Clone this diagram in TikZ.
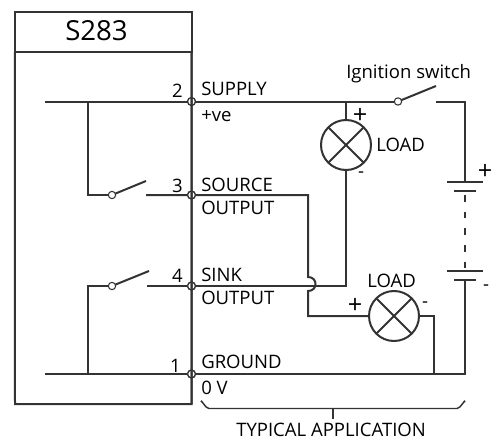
\documentclass[tikz,border=0pt]{standalone}
\usepackage{fontspec}
\setmainfont{Open Sans}
\definecolor{wirecol}{HTML}{333333}
\tikzset{
    wire/.style={line width=1.5pt,draw=wirecol,line join=miter},
    lamp/.style={circle,draw=wirecol,line width=1.5pt,minimum size=37.5pt,inner sep=0pt,outer sep=0pt},
    pin/.style={circle,draw=wirecol,line width=0.8pt,minimum size=6pt,inner sep=0pt,outer sep=0pt},
    contact/.style={circle,draw=wirecol,fill=white,line width=0.8pt,minimum size=5.5pt,inner sep=0pt,outer sep=0pt},
    lbl/.style={anchor=base west,inner sep=0pt,text=black,font=\fontsize{13.9}{14}\selectfont},
    num/.style={anchor=base east,inner sep=0pt,text=black,font=\fontsize{13.9}{14}\selectfont},
    sign/.style={inner sep=0pt,text=black,font=\fontsize{13.9}{14}\selectfont},
    plus/.style={inner sep=0pt,text=black,font=\fontsize{19}{19}\selectfont}
}
\begin{document}
\begin{tikzpicture}[x=0.75pt,y=-0.75pt]
                    \useasboundingbox (0,0) rectangle (493,439);
                    % Blocks
                    \node [rectangle,draw=wirecol,line width=1.5pt,minimum width=132.4pt,minimum height=30pt,inner sep=0pt,outer sep=0pt] (title) at (103.25,32) {};
                    \node [inner sep=0pt,text=black,font=\fontsize{20.7}{21}\selectfont] (titletext) at (96.5,31) {S283};
                    \node [coordinate] (boxBL) at (15,404) {};
                    \node [coordinate] (boxBR) at (191.5,404) {};
                    \node [lamp] (LOADa) at (346,145) {};
                    \node [lamp] (LOADb) at (394,316) {};
                    \foreach \lampname in {LOADa,LOADb}{
                        \draw [wire] (\lampname.45) -- (\lampname.225);
                        \draw [wire] (\lampname.135) -- (\lampname.315);
                    }

                    % Terminals
                    \node [pin] (T2) at (191.5,101.5) {};
                    \node [pin] (T3) at (191.5,195) {};
                    \node [pin] (T4) at (191.5,286) {};
                    \node [pin] (T1) at (191.5,374) {};

                    % Switches
                    \node [coordinate] (inA) at (45,101.5) {};
                    \node [coordinate] (inB) at (45,374) {};
                    \node [coordinate] (jA) at (88,101.5) {};
                    \node [coordinate] (jB) at (88,374) {};
                    \node [coordinate] (kA) at (88,195) {};
                    \node [coordinate] (kB) at (88,286) {};
                    \node [contact] (SWa) at (112,195) {};
                    \node [contact] (SWb) at (112,286) {};
                    \node [contact] (SWign) at (398,101.5) {};
                    \node [coordinate] (SWaup) at (146,181) {};
                    \node [coordinate] (SWbup) at (149,271) {};
                    \node [coordinate] (SWignup) at (436,86) {};
                    \node [coordinate] (SWaout) at (146,195) {};
                    \node [coordinate] (SWbout) at (147,286) {};
                    \node [coordinate] (SWignout) at (436,101.5) {};

                    % Points on the outer wires
                    \node [coordinate] (jLamp) at (346,101.5) {};
                    \node [coordinate] (sinkTurn) at (346,286) {};
                    \node [coordinate] (srcTurn) at (308,195) {};
                    \node [coordinate] (hopA) at (308,277) {};
                    \node [coordinate] (hopB) at (308,291) {};
                    \node [coordinate] (srcLow) at (308,316) {};
                    \node [coordinate] (drop) at (434,316) {};
                    \node [coordinate] (dropEnd) at (434,374) {};
                    \node [coordinate] (batTop) at (465,101.5) {};
                    \node [coordinate] (batA) at (465,182) {};
                    \node [coordinate] (batB) at (465,191) {};
                    \node [coordinate] (batC) at (465,271) {};
                    \node [coordinate] (batD) at (465,280) {};
                    \node [coordinate] (batEnd) at (465,374) {};

                    % Brace
                    \node [coordinate] (braceL) at (201,402) {};
                    \node [coordinate] (braceLb) at (209,408.5) {};
                    \node [coordinate] (braceR) at (465,402) {};
                    \node [coordinate] (braceRb) at (457,408.5) {};
                    \node [coordinate] (braceM) at (333,408.5) {};
                    \node [coordinate] (braceT) at (333,419) {};

                    % Connections
                    \draw [wire] (title.south west) -- (boxBL) -- (boxBR) -- (title.south east);
                    \draw [wire] (inA) -- (T2) -- (jLamp) -- (SWign);
                    \draw [wire] (jLamp) -- (LOADa);
                    \draw [wire] (LOADa) -- (sinkTurn) -- (T4) -- (SWbout);
                    \draw [wire] (jA) -- (kA) -- (SWa);
                    \draw [wire] (SWa) -- (SWaup);
                    \draw [wire] (SWaout) -- (T3) -- (srcTurn) -- (hopA) .. controls (318,277) and (318,291) .. (hopB) -- (srcLow) -- (LOADb);
                    \draw [wire] (jB) -- (kB) -- (SWb);
                    \draw [wire] (SWb) -- (SWbup);
                    \draw [wire] (SWign) -- (SWignup);
                    \draw [wire] (SWignout) -- (batTop) -- (batA);
                    \draw [wire] (inB) -- (T1) -- (batEnd) -- (batD);
                    \draw [wire] (LOADb) -- (drop) -- (dropEnd);
                    \draw [wire,dash pattern=on 5pt off 7.5pt,dash phase=9.5pt] (batB) -- (batC);
                    \draw [wire] ([xshift=-13.5pt]batA) -- ([xshift=13.5pt]batA);
                    \draw [wire] ([xshift=-8pt]batB) -- ([xshift=8pt]batB);
                    \draw [wire] ([xshift=-13.5pt]batC) -- ([xshift=13.5pt]batC);
                    \draw [wire] ([xshift=-8pt]batD) -- ([xshift=8pt]batD);
                    \draw [wire,line width=1.1pt] (braceL) to[out=90,in=180] (braceLb) -- (braceRb) to[out=0,in=90] (braceR);
                    \draw [wire,line width=1.1pt] (braceM) -- (braceT);
                    % the box side runs through the pins
                    \draw [wire] (title.south east) -- (boxBR);
                    \node [pin] at (T2) {};
                    \node [pin] at (T3) {};
                    \node [pin] at (T4) {};
                    \node [pin] at (T1) {};

                    % Labels
                    \node [num] (n2) at (183,97) {2};
                    \node [num] (n3) at (183,192) {3};
                    \node [num] (n4) at (183,282) {4};
                    \node [num] (n1) at (181,372) {1};
                    \node [lbl] (l2a) at (201,95) {SUPPLY};
                    \node [lbl] (l2b) at (201,121) {+ve};
                    \node [lbl] (l3a) at (201,191) {SOURCE};
                    \node [lbl] (l3b) at (201,214) {OUTPUT};
                    \node [lbl] (l4a) at (201,281) {SINK};
                    \node [lbl] (l4b) at (201,304) {OUTPUT};
                    \node [lbl] (l1a) at (201,368) {GROUND};
                    \node [lbl] (l1b) at (201,394) {0 V};
                    \node [lbl] (ign) at (346,78) {Ignition switch};
                    \node [lbl] (lda) at (376,151) {LOAD};
                    \node [lbl] (ldb) at (367,287) {LOAD};
                    \node [lbl] (typ) at (236,436) {TYPICAL APPLICATION};
                    \node [plus] (pa) at (360,116) {+};
                    \node [sign] (ma) at (361,175) {-};
                    \node [plus] (pb) at (355,306) {+};
                    \node [sign] (mb) at (425,305) {-};
                    \node [plus] (pc) at (485,172) {+};
                    \node [sign] (mc) at (486,288) {-};
\end{tikzpicture}
\end{document}
